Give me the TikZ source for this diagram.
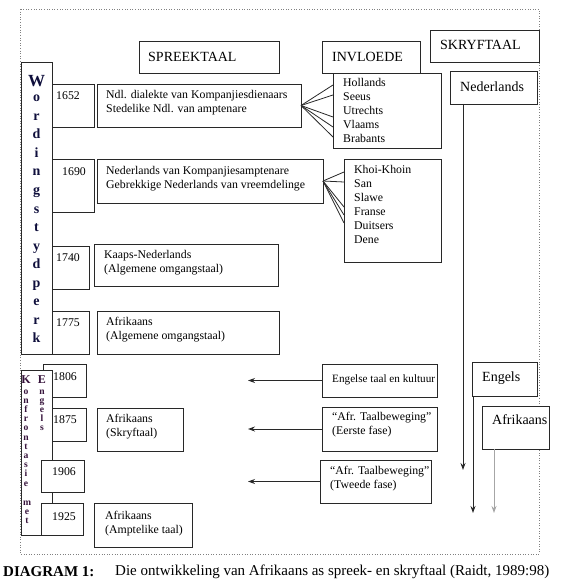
\documentclass[tikz,border=0pt]{standalone}
\usepackage{fontspec}
\setmainfont{Liberation Serif}
\usetikzlibrary{arrows.meta}
\definecolor{wcol}{RGB}{15,15,60}
\definecolor{kcol}{RGB}{55,20,60}
\definecolor{lcol}{RGB}{40,40,40}
\newcommand\bx[5]{\node[bx,minimum width=#4pt,minimum height=#5pt] (#1) at (#2,#3) {};}
\begin{document}
\begin{tikzpicture}[x=1pt,y=-1pt,
  bx/.style={draw=lcol,line width=0.9pt,fill=white,inner sep=0pt,outer sep=0pt,anchor=north west},
  frame/.style={draw=gray,dotted,line width=0.6pt},
  txt/.style={inner sep=0pt,anchor=west,align=left,font=\fontsize{11.8}{14}\selectfont},
  head/.style={inner sep=0pt,anchor=west,font=\fontsize{14}{16}\selectfont},
  wl/.style={inner sep=0pt,text height=10pt,text depth=0pt,text=wcol,font=\bfseries\fontsize{14}{16}\selectfont},
  kl/.style={inner sep=0pt,text height=6pt,text depth=0pt,text=kcol,font=\bfseries\fontsize{9.6}{10}\selectfont},
  kb/.style={inner sep=0pt,text height=8pt,text depth=0pt,text=kcol,font=\bfseries\fontsize{12}{12}\selectfont},
  fan/.style={draw=lcol,line width=0.8pt},
  arr/.style={draw=lcol,line width=0.9pt,-{Stealth[length=7pt,width=5pt]}}]
\useasboundingbox (0,0) rectangle (566,585);
\draw[frame] (20,9) rectangle (539,554);

% headers
\bx{spreek}{139}{41}{140}{32}
\node[head] (spreekT) at (148,57) {SPREEKTAAL};
\bx{invl}{322}{41}{98}{32}
\node[head] (invlT) at (332,57) {INVLOEDE};
\bx{skryf}{430}{30}{109}{32}
\node[head] (skryfT) at (440,45) {SKRYFTAAL};
\bx{ned}{450}{71}{87}{33}
\node[head] (nedT) at (460,87) {Nederlands};

% Wordingstydperk
\bx{word}{21}{62}{31}{292}
\node[wl,font=\bfseries\fontsize{17}{18}\selectfont,text height=12pt] (wW) at (36.5,81) {W};
\foreach \l [count=\i] in {o,r,d,i,n,g,s,t,y,d,p,e,r,k}
  \node[wl] (w\i) at (36.5,{95+18.5*(\i-1)+2}) {\l};

\bx{y1652}{52}{84}{42}{43}
\node[txt] (y1652T) at (56,96) {1652};
\bx{t1652}{97}{84}{204}{43}
\node[txt] (t1652T) at (106,103) {Ndl. dialekte van Kompanjiesdienaars\\Stedelike Ndl. van amptenare};

\bx{y1690}{52}{159}{42}{53}
\node[txt] (y1690T) at (62,172) {1690};
\bx{t1690}{97}{159}{226}{44}
\node[txt] (t1690T) at (106,179) {Nederlands van Kompanjiesamptenare\\Gebrekkige Nederlands van vreemdelinge};

\bx{y1740}{52}{246}{37}{43}
\node[txt] (y1740T) at (56,258) {1740};
\bx{t1740}{94}{244}{184}{42}
\node[txt] (t1740T) at (104,263) {Kaaps-Nederlands\\(Algemene omgangstaal)};

\bx{y1775}{52}{311}{37}{43}
\node[txt] (y1775T) at (56,323) {1775};
\bx{t1775}{97}{311}{182}{43}
\node[txt] (t1775T) at (106,330) {Afrikaans\\(Algemene omgangstaal)};

% invloede lists
\bx{hol}{333}{73}{108}{75}
\node[txt,anchor=north west] (holT) at (343,78) {Hollands\\Seeus\\Utrechts\\Vlaams\\Brabants};
\bx{khoi}{344}{159}{97}{103}
\node[txt,anchor=north west] (khoiT) at (354,165) {Khoi-Khoin\\San\\Slawe\\Franse\\Duitsers\\Dene};

\foreach \d in {12,22,44,54,64}
  \draw[fan] (t1652.east) -- ([yshift=-\d pt]hol.north west);
\foreach \d in {13,23,48,56,64}
  \draw[fan] (t1690.east) -- ([yshift=-\d pt]khoi.north west);

% bottom section
\bx{y1806}{43}{364}{43}{33}
\node[txt] (y1806T) at (53,377) {1806};
\bx{y1875}{52}{408}{34}{33}
\node[txt] (y1875T) at (53,420) {1875};
\bx{konf}{21}{370}{31}{165}
\bx{y1906}{41}{460}{43}{32}
\node[txt] (y1906T) at (52,472) {1906};
\bx{y1925}{41}{503}{42}{32}
\node[txt] (y1925T) at (52,517) {1925};

\node[kb] (kK) at (26,379) {K};
\foreach \l [count=\i] in {o,n,f,r,o,n,t,a,s,i,e}
  \node[kl] (k\i) at (26,{391+9.2*(\i-1)}) {\l};
\foreach \l [count=\i] in {m,e,t}
  \node[kl] (m\i) at (27,{502+9.2*(\i-1)}) {\l};
\node[kb] (eE) at (42,379) {E};
\foreach \l [count=\i] in {n,g,e,l,s}
  \node[kl] (e\i) at (42,{391+9.2*(\i-1)}) {\l};

\bx{t1875}{97}{408}{86}{43}
\node[txt] (t1875T) at (106,427) {Afrikaans\\(Skryftaal)};
\bx{t1925}{94}{503}{98}{44}
\node[txt] (t1925T) at (105,524) {Afrikaans\\(Amptelike taal)};

\bx{eng}{322}{364}{115}{33}
\node[txt,font=\fontsize{11.2}{14}\selectfont] (engT) at (332,380) {Engelse taal en kultuur};
\bx{eer}{322}{407}{115}{44}
\node[txt] (eerT) at (332,425) {“Afr. Taalbeweging”\\(Eerste fase)};
\bx{twe}{320}{460}{111}{43}
\node[txt] (tweT) at (330,479) {“Afr. Taalbeweging”\\(Tweede fase)};

\coordinate (lend) at (248,0);
\draw[arr] (eng.west) -- (eng.west -| lend);
\draw[arr] (eer.west) -- (eer.west -| lend);
\draw[arr] (twe.west) -- (twe.west -| lend);

\bx{engels}{472}{362}{65}{34}
\node[head] (engelsT) at (482,378) {Engels};
\bx{afr}{482}{406}{67}{43}
\node[head] (afrT) at (492,420) {Afrikaans};

\coordinate (nend) at (463,470);
\draw[arr] (ned.south -| nend) -- (nend);
\coordinate (eend) at (473,513);
\draw[arr] (engels.south -| eend) -- (eend);
\coordinate (aend) at (494,513);
\draw[arr,draw=gray!70] (afr.south -| aend) -- (aend);

% caption
\node[inner sep=0pt,anchor=west,font=\bfseries\fontsize{15}{17}\selectfont] (capA) at (3,572) {DIAGRAM 1:};
\node[inner sep=0pt,anchor=west,font=\fontsize{15}{17}\selectfont] (capB) at (115,572) {Die ontwikkeling van Afrikaans as spreek- en skryftaal (Raidt, 1989:98)};
\end{tikzpicture}
\end{document}
